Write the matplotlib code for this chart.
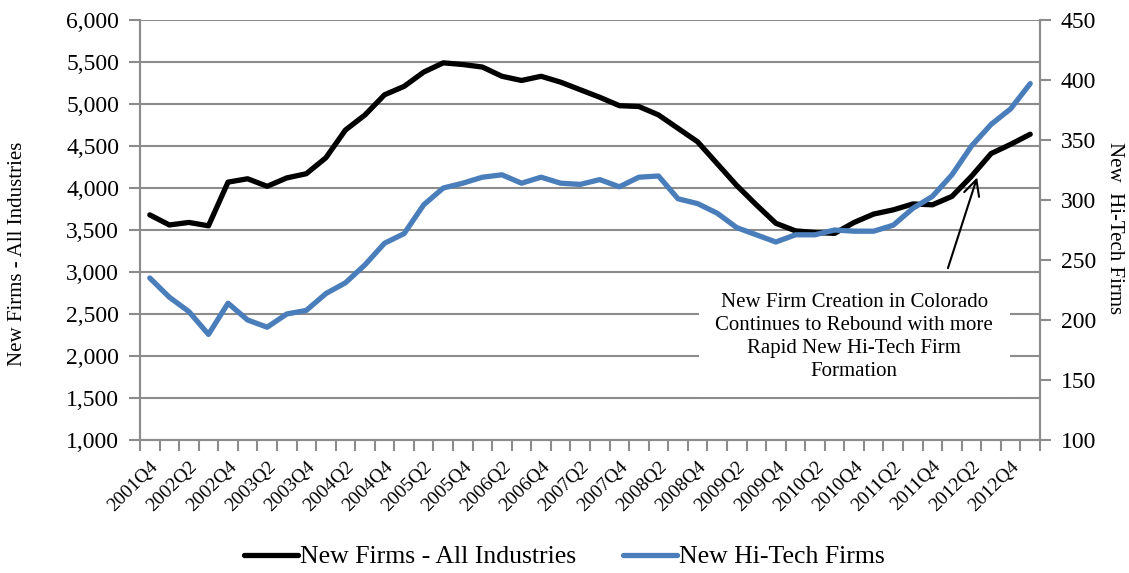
import matplotlib.pyplot as plt
import numpy as np

plt.rcParams['font.family'] = ['Liberation Serif', 'DejaVu Serif']

# quarters 2001Q4 .. 2013Q1
quarters = []
for yr in range(2001, 2014):
    for q in range(1, 5):
        quarters.append(f'{yr}Q{q}')
quarters = quarters[quarters.index('2001Q4'):quarters.index('2013Q1') + 1]

all_firms = [3680, 3560, 3590, 3550, 4070, 4110, 4020, 4120, 4170, 4360,
             4690, 4870, 5110, 5210, 5380, 5490, 5470, 5440, 5330, 5280,
             5330, 5260, 5170, 5080, 4980, 4970, 4870, 4710, 4550, 4290,
             4030, 3800, 3580, 3490, 3470, 3460, 3590, 3690, 3740, 3810,
             3800, 3900, 4140, 4410, 4520, 4640]

hitech_firms = [235, 219, 207, 188, 214, 200, 194, 205, 208, 222,
                231, 246, 264, 272, 296, 310, 314, 319, 321, 314,
                319, 314, 313, 317, 311, 319, 320, 301, 297, 289,
                277, 271, 265, 271, 271, 275, 274, 274, 279, 293,
                303, 321, 345, 363, 376, 397]

note = ('New Firm Creation in Colorado\nContinues to Rebound with more\n'
        'Rapid New Hi-Tech Firm\nFormation')

grid_col = '#8c8c8c'
blue = '#4a7ebb'

fig = plt.figure(figsize=(11.29, 5.73), dpi=100)
ax = fig.add_axes([140/1129, 1 - 440/573, 900/1129, 420/573])
ax2 = ax.twinx()

x = np.arange(len(quarters))
ax.plot(x, all_firms, color='black', lw=3.8, solid_joinstyle='round',
        solid_capstyle='round', label='New Firms - All Industries', zorder=3)
ax2.plot(x, hitech_firms, color=blue, lw=3.8, solid_joinstyle='round',
         solid_capstyle='round', label='New Hi-Tech Firms', zorder=3)

ax.set_xlim(-0.5, len(quarters) - 0.5)
ax.set_ylim(1000, 6000)
ax.set_yticks(np.arange(1000, 6001, 500))
ax.set_yticklabels([f'{v:,}' for v in range(1000, 6001, 500)])
ax2.set_ylim(100, 450)
ax2.set_yticks(np.arange(100, 451, 50))

ax.set_xticks(x[::2])
ax.set_xticklabels(quarters[::2], rotation=45, ha='right',
                   rotation_mode='anchor', fontsize=14)
ax.set_xticks(np.arange(-0.5, len(quarters), 1), minor=True)
ax.tick_params(axis='x', which='major', length=0, pad=13)
ax.tick_params(axis='x', which='minor', length=8, color=grid_col, width=1.5)
ax.tick_params(axis='y', length=8, color=grid_col, width=1.5, labelsize=17, pad=7)
ax2.tick_params(axis='y', length=8, color=grid_col, width=1.5, labelsize=17, pad=7)

ax.grid(axis='y', color=grid_col, lw=1.5)
ax.set_axisbelow(True)
for a in (ax, ax2):
    a.spines['top'].set_visible(False)
    for s in ('left', 'right', 'bottom'):
        a.spines[s].set_color(grid_col)
        a.spines[s].set_linewidth(1.5)

ax.set_ylabel('New Firms - All Industries', fontsize=15, va='center')
ax.yaxis.set_label_coords(-0.1356, 0.443)
ax2.set_ylabel('New  Hi-Tech Firms', fontsize=15, rotation=270, va='center')
ax2.yaxis.set_label_coords(1.083, 0.505)

ax2.text(36.0, 186, note, ha='center', va='center', fontsize=15,
         linespacing=1.28, zorder=4,
         bbox=dict(facecolor='white', edgecolor='none', pad=12))
ax2.annotate('', xy=(42.33, 321), xytext=(40.75, 241),
             arrowprops=dict(arrowstyle='->', color='black', lw=1.5,
                             mutation_scale=28), zorder=5)

fig.legend(handles=ax.get_lines() + ax2.get_lines(), loc='center',
           bbox_to_anchor=(0.5, 1 - 557/573), ncol=2, frameon=False,
           fontsize=18.5, handlelength=2.1, columnspacing=1.8, handletextpad=0.1)

fig.savefig('out.png', dpi=100)
